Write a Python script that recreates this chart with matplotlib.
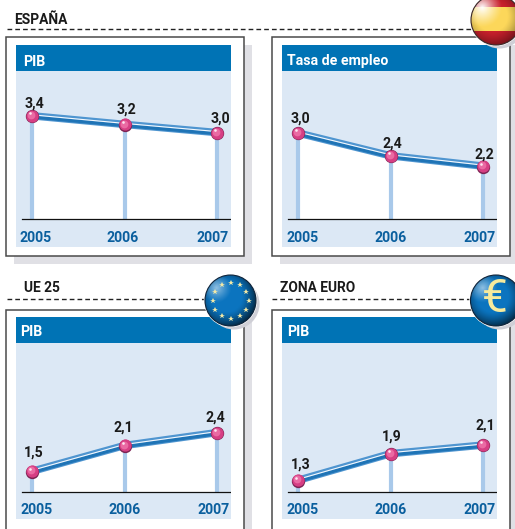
import matplotlib

matplotlib.use("Agg")
import matplotlib.pyplot as plt
import numpy as np
from matplotlib.patches import Circle, Rectangle
from matplotlib.transforms import offset_copy

W, H = 515, 529
FONT = "Roboto"

YEARS = [2005, 2006, 2007]
YEAR_LABELS = ["2005", "2006", "2007"]

# heights as drawn (the source chart is not quite to scale) and printed labels
ESP_PIB = [3.40, 3.20, 3.01]
ESP_EMPLEO = [3.00, 2.47, 2.23]
UE_PIB = [1.47, 2.07, 2.37]
EURO_PIB = [1.26, 1.88, 2.08]
ESP_PIB_LABELS = ["3,4", "3,2", "3,0"]
ESP_EMPLEO_LABELS = ["3,0", "2,4", "2,2"]
UE_PIB_LABELS = ["1,5", "2,1", "2,4"]
EURO_PIB_LABELS = ["1,3", "1,9", "2,1"]

BLUE = "#0073b5"
PALE = "#dce8f5"
STEM = "#a9c9ea"
TEXT_BLUE = "#0a5f9e"
INK = "#1a1a1a"
SHADOW = "#e0e0e5"

PX_PER_UNIT = 43
BASE = 1.0

fig = plt.figure(figsize=(W / 100, H / 100), dpi=100, facecolor="white")


def px_axes(x0, y0, x1, y1, zorder):
    return fig.add_axes(
        (x0 / W, 1 - y1 / H, (x1 - x0) / W, (y1 - y0) / H), zorder=zorder
    )


bg = px_axes(0, 0, W, H, 0)
bg.set_xlim(0, W)
bg.set_ylim(H, 0)
bg.axis("off")

top = px_axes(0, 0, W, H, 5)
top.axis("off")
top.patch.set_alpha(0)


def card(x0, y0, x1, y1, header, head_x, head_dy=17):
    bg.add_patch(Rectangle((x0 + 8, y0 + 8), x1 - x0, y1 - y0, fc=SHADOW, ec="none"))
    bg.add_patch(
        Rectangle((x0, y0), x1 - x0, y1 - y0, fc="white", ec="#4a4a4a", lw=1.1)
    )
    ix0, iy0 = x0 + 10.5, y0 + 7.5
    bg.add_patch(Rectangle((ix0, iy0), 215, 26, fc=BLUE, ec="none", zorder=3))
    bg.text(
        head_x, iy0 + head_dy, header, color="white", fontsize=10.2, fontweight="bold",
        family=FONT, ha="left", va="center", zorder=4,
    )
    return ix0, iy0 + 26


def panel(ix0, iy0, values, labels, label_dx, label_dy, year_dx):
    iy1 = iy0 + 176
    axis_y = iy0 + 148.5
    ax = px_axes(ix0, iy0, ix0 + 215, iy1, 2)
    ax.set_facecolor(PALE)
    for s in ax.spines.values():
        s.set_visible(False)
    ax.set_xticks([])
    ax.set_yticks([])
    # 2005 sits 16 px in, 92.5 px per year
    ax.set_xlim(2005 - 16 / 92.5, 2005 + (215 - 16) / 92.5)
    ax.set_ylim(
        BASE - (iy1 - axis_y) / PX_PER_UNIT, BASE + (axis_y - iy0) / PX_PER_UNIT
    )

    ax.fill_between(YEARS, BASE, values, color="white", lw=0, zorder=1)
    ax.vlines(YEARS, BASE, values, color=STEM, lw=3.0, zorder=2)
    ax.plot(
        [ax.get_xlim()[0] + 6 / 92.5, ax.get_xlim()[1] - 1.5 / 92.5], [BASE, BASE],
        color="#111111", lw=0.9, zorder=3,
    )

    shift = lambda dx, dy: offset_copy(ax.transData, fig, x=dx, y=dy, units="dots")
    ax.plot(YEARS, values, color="#4f95d0", lw=5.4, zorder=4, solid_joinstyle="round")
    ax.plot(YEARS, values, color="#1f74b6", lw=2.2, zorder=5,
            transform=shift(0, -1.2))
    ax.plot(YEARS, values, color="#f4f9fe", lw=0.8, zorder=5,
            transform=shift(0, 1.0))

    ax.plot(YEARS, values, "o", ms=9.6, color="#7d2353", mew=0, zorder=6,
            transform=shift(0.4, -0.4))
    ax.plot(YEARS, values, "o", ms=8.8, color="#d63f84", mew=0, zorder=7)
    ax.plot(YEARS, values, "o", ms=5.6, color="#ea6aa3", mew=0, zorder=8,
            transform=shift(-0.7, 0.9))
    ax.plot(YEARS, values, "o", ms=1.9, color="#fde6f0", mew=0, zorder=9,
            transform=shift(-2.0, 2.6))

    for yr, v, lab, dx, dy in zip(YEARS, values, labels, label_dx, label_dy):
        ax.annotate(
            lab, (yr, v), xytext=(dx * 0.72, -dy * 0.72), textcoords="offset points",
            ha="center", va="center", color=INK, fontsize=10.2, fontweight="bold",
            family=FONT, zorder=10, annotation_clip=False,
        )

    # year labels drift inward from their stems
    for yr, lab, dx in zip(YEARS, YEAR_LABELS, year_dx):
        ax.annotate(
            lab, (yr, BASE), xytext=(dx * 0.72, -18.5 * 0.72),
            textcoords="offset points", ha="center", va="center", color=TEXT_BLUE,
            fontsize=10.2, fontweight="bold", family=FONT,
        )
    return ax


def dashes(x0, x1, y):
    bg.plot([x0, x1], [y, y], color="#222222", lw=1.0, dashes=(3.4, 2.2))


def shine(cx, cy, r, clip, strength, reach, dark):
    n = 120
    xx, yy = np.meshgrid(np.linspace(-1, 1, n), np.linspace(-1, 1, n))
    ext = (cx - r, cx + r, cy + r, cy - r)
    # dark rim, heavier toward lower right
    rim = np.clip((np.hypot(xx + 0.15, yy + 0.15) - 0.6) / 0.6, 0, 1) ** 1.3 * dark
    img = np.zeros((n, n, 4))
    img[..., 3] = rim
    im = top.imshow(img, extent=ext, aspect="auto", zorder=5, interpolation="bilinear")
    im.set_clip_path(clip)
    # highlight, upper left
    d = np.hypot(xx + 0.55, yy + 0.5)
    img = np.ones((n, n, 4))
    img[..., 3] = np.clip(1 - d / reach, 0, 1) ** 1.2 * strength
    im = top.imshow(img, extent=ext, aspect="auto", zorder=6, interpolation="bilinear")
    im.set_clip_path(clip)


def badge(cx, cy, r, color):
    top.add_patch(Circle((cx + 3.5, cy + 3.5), r, fc="#cfcfd6", ec="none", zorder=1))
    top.add_patch(Circle((cx, cy), r + 1.2, fc="white", ec="none", zorder=2))
    disc = Circle((cx, cy), r, fc=color, ec="none", zorder=3)
    top.add_patch(disc)
    return disc


def title(x, y, s):
    bg.text(x, y, s, fontsize=9.9, fontweight="bold", family=FONT, color=INK,
            ha="left", va="center")


title(14, 19.5, "ESPAÑA")
title(24, 287.5, "UE 25")
title(279.5, 288, "ZONA EURO")
dashes(7, 472, 29)
dashes(7, 206, 298.5)
dashes(272, 473, 298.5)

ix, iy = card(5.5, 37, 244, 256, "PIB", 23)
panel(ix, iy, ESP_PIB, ESP_PIB_LABELS, (2, 2, 3), (-12, -15, -14), (3.5, -2, -4.5))
ix, iy = card(271.5, 37, 510, 256, "Tasa de empleo", 287)
panel(ix, iy, ESP_EMPLEO, ESP_EMPLEO_LABELS, (2, 2, 1), (-14, -12, -12), (5, 0, -3))
ix, iy = card(5.5, 309.5, 244, 560, "PIB", 20.5, 15)
panel(ix, iy, UE_PIB, UE_PIB_LABELS, (2, -1, -2), (-19, -18, -15), (5, 0, -3))
ix, iy = card(271.5, 309.5, 510, 560, "PIB", 287, 15)
panel(ix, iy, EURO_PIB, EURO_PIB_LABELS, (3, 1, 2), (-16, -17, -19), (5, 0, -3))

# Spain badge: red, yellow band, red
cx, cy, r = 496, 20, 25
disc = badge(cx, cy, r, "#c8202c")
band = Rectangle((cx - r, 7), 2 * r, 24, fc="#fcd75a", ec="none", zorder=4)
top.add_patch(band)
band.set_clip_path(disc)
shine(cx, cy, r, disc, 1.0, 0.8, 0.4)
top.add_patch(Circle((cx, cy), r, fc="none", ec="#3a2a2a", lw=0.8, zorder=7))

# EU badge with ring of stars
cx, cy, r = 230.5, 300.5, 25.5
disc = badge(cx, cy, r, "#0b74bf")
shine(cx, cy, r, disc, 0.55, 0.6, 0.65)
top.add_patch(Circle((cx, cy), r, fc="none", ec="#10243a", lw=0.8, zorder=7))
ang = np.deg2rad(np.arange(0, 360, 30))
top.plot(cx + 18 * np.cos(ang), cy + 18 * np.sin(ang), "*", ms=4.2, mew=0,
         color="#f3e9a6", zorder=8)

# Euro badge
cx, cy, r = 496, 300.5, 25.5
disc = badge(cx, cy, r, "#0b74bf")
shine(cx, cy, r, disc, 0.55, 0.6, 0.65)
top.add_patch(Circle((cx, cy), r, fc="none", ec="#10243a", lw=0.8, zorder=7))
top.text(494.5, 299, "€", fontsize=33, color="#f7ea9c", ha="center", va="center",
         family=FONT, zorder=8)

top.set_xlim(0, W)
top.set_ylim(H, 0)

fig.savefig("out.png", dpi=100)
